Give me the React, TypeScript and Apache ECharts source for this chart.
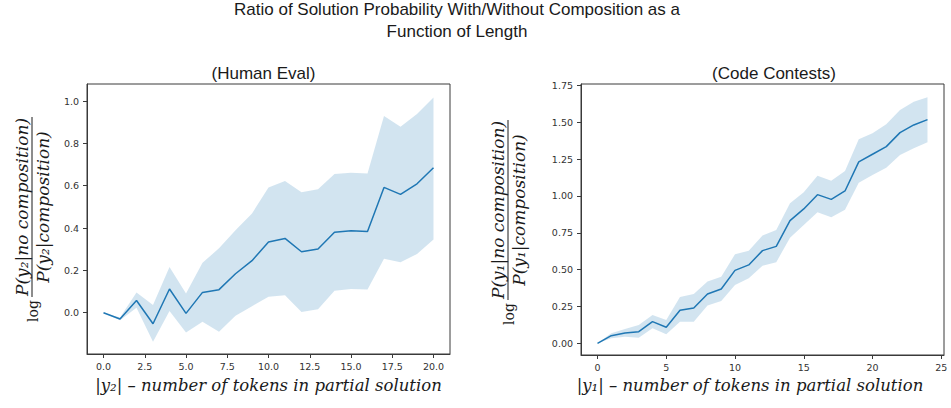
import React, { useEffect, useRef } from "react";
import * as echarts from "echarts";

// ---- Human Eval (left) ----
const heX = [0, 1, 2, 3, 4, 5, 6, 7, 8, 9, 10, 11, 12, 13, 14, 15, 16, 17, 18, 19, 20];
const heMean = [0.0, -0.03, 0.058, -0.052, 0.112, -0.003, 0.096, 0.109, 0.184, 0.246, 0.334, 0.351, 0.288, 0.301, 0.38, 0.387, 0.384, 0.592, 0.559, 0.609, 0.685];
const heUpper = [0.0, -0.022, 0.096, 0.036, 0.216, 0.091, 0.236, 0.304, 0.39, 0.469, 0.592, 0.622, 0.569, 0.583, 0.655, 0.661, 0.658, 0.929, 0.879, 0.939, 1.017];
const heLower = [0.0, -0.035, 0.024, -0.137, 0.008, -0.093, -0.043, -0.09, -0.014, 0.031, 0.076, 0.082, 0.003, 0.016, 0.104, 0.112, 0.11, 0.255, 0.238, 0.277, 0.346];
const heXTicks = [0, 2.5, 5, 7.5, 10, 12.5, 15, 17.5, 20];
const heYTicks = [0, 0.2, 0.4, 0.6, 0.8, 1.0];

// ---- Code Contests (right) ----
const ccX = [0, 1, 2, 3, 4, 5, 6, 7, 8, 9, 10, 11, 12, 13, 14, 15, 16, 17, 18, 19, 20, 21, 22, 23, 24];
const ccMean = [0, 0.052, 0.07, 0.079, 0.147, 0.109, 0.224, 0.24, 0.335, 0.369, 0.495, 0.532, 0.629, 0.658, 0.833, 0.912, 1.009, 0.977, 1.034, 1.231, 1.283, 1.335, 1.43, 1.482, 1.518];
const ccUpper = [0, 0.068, 0.097, 0.124, 0.192, 0.158, 0.314, 0.335, 0.419, 0.452, 0.604, 0.629, 0.731, 0.769, 0.95, 1.025, 1.138, 1.104, 1.17, 1.385, 1.425, 1.486, 1.584, 1.64, 1.67];
const ccLower = [0, 0.034, 0.045, 0.038, 0.102, 0.061, 0.147, 0.147, 0.256, 0.287, 0.396, 0.441, 0.527, 0.55, 0.717, 0.803, 0.889, 0.855, 0.907, 1.09, 1.143, 1.192, 1.278, 1.324, 1.364];
const ccXTicks = [0, 5, 10, 15, 20, 25];
const ccYTicks = [0, 0.25, 0.5, 0.75, 1.0, 1.25, 1.5, 1.75];

const LINE = "#1f77b4";
const BAND = "rgba(31,119,180,0.2)";
const AXIS = "#3a3a3a";
const TICKFONT = "DejaVu Sans";
const MATH = '"DejaVu Serif"';

function bandSeries(xs: number[], lo: number[], hi: number[], idx: number) {
  return {
    type: "custom",
    xAxisIndex: idx,
    yAxisIndex: idx,
    silent: true,
    z: 1,
    data: xs.map((x, i) => [x, lo[i], hi[i]]),
    encode: { x: 0, y: [1, 2] },
    renderItem: (params: any, api: any) => {
      if (params.dataIndex !== 0) return null;
      const pts: number[][] = [];
      for (let i = 0; i < xs.length; i++) pts.push(api.coord([xs[i], hi[i]]));
      for (let i = xs.length - 1; i >= 0; i--) pts.push(api.coord([xs[i], lo[i]]));
      return { type: "polygon", shape: { points: pts }, style: { fill: BAND }, silent: true };
    },
  };
}

function lineSeries(xs: number[], ys: number[], idx: number) {
  return {
    type: "line",
    xAxisIndex: idx,
    yAxisIndex: idx,
    data: xs.map((x, i) => [x, ys[i]]),
    showSymbol: false,
    symbol: "none",
    lineStyle: { color: LINE, width: 1.5 },
    z: 3,
    silent: true,
  };
}

function axis(gridIndex: number, min: number, max: number, ticks: number[], fmt: (v: number) => string, margin: number) {
  return {
    type: "value",
    gridIndex,
    min,
    max,
    axisLine: { show: true, onZero: false, lineStyle: { color: AXIS, width: 1 } },
    axisTick: { show: true, length: 4, inside: false, lineStyle: { color: AXIS, width: 1 }, customValues: ticks },
    axisLabel: { customValues: ticks, formatter: fmt, fontSize: 9.5, color: "#333", margin, fontFamily: TICKFONT },
    splitLine: { show: false },
  };
}

function txt(text: string, x: number, y: number, font: string, align = "center", vAlign = "middle") {
  return {
    type: "text",
    x,
    y,
    silent: true,
    style: {
      text,
      x: 0,
      y: 0,
      font,
      fill: "#1a1a1a",
      align,
      verticalAlign: vAlign,
      textAlign: align,
      textVerticalAlign: vAlign,
    },
  };
}

function yLabel(cx: number, cy: number, sub: string) {
  const half = 90;
  const fracFont = `italic 17px ${MATH}`;
  return {
    type: "group",
    x: cx,
    y: cy,
    rotation: Math.PI / 2,
    silent: true,
    children: [
      { type: "line", shape: { x1: -half, y1: 0, x2: half, y2: 0 }, style: { stroke: "#1a1a1a", lineWidth: 1 } },
      txt(`P(y${sub}|no composition)`, 0, -2, fracFont, "center", "bottom"),
      txt(`P(y${sub}|composition)`, 0, 2, fracFont, "center", "top"),
      txt("log", -half - 3, 1, `14px ${MATH}`, "right", "middle"),
    ],
  };
}

export default function App() {
  const ref = useRef<HTMLDivElement>(null);
  useEffect(() => {
    if (!ref.current) return;
    const chart = echarts.init(ref.current, undefined, { renderer: "svg" });
    const option: any = {
      animation: false,
      backgroundColor: "#ffffff",
      grid: [
        { left: 87, top: 84, width: 363, height: 270, show: true, borderColor: AXIS, borderWidth: 1, backgroundColor: "transparent" },
        { left: 581, top: 84, width: 363, height: 271, show: true, borderColor: AXIS, borderWidth: 1, backgroundColor: "transparent" },
      ],
      xAxis: [
        axis(0, -1, 21, heXTicks, (v: number) => v.toFixed(1), 7),
        axis(1, -1.2, 25.2, ccXTicks, (v: number) => v.toFixed(0), 7),
      ],
      yAxis: [
        axis(0, -0.195, 1.0805, heYTicks, (v: number) => v.toFixed(1), 8),
        axis(1, -0.0794, 1.76, ccYTicks, (v: number) => v.toFixed(2), 8),
      ],
      series: [
        bandSeries(heX, heLower, heUpper, 0),
        lineSeries(heX, heMean, 0),
        bandSeries(ccX, ccLower, ccUpper, 1),
        lineSeries(ccX, ccMean, 1),
      ],
      graphic: [
        txt("Ratio of Solution Probability With/Without Composition as a", 457, 9, '17px "Liberation Sans"'),
        txt("Function of Length", 457, 31, '17px "Liberation Sans"'),
        txt("(Human Eval)", 263.5, 73.5, '17px "Liberation Sans"'),
        txt("(Code Contests)", 774, 73.5, '17px "Liberation Sans"'),
        txt("|y₂| – number of tokens in partial solution", 268.5, 385, `italic 16.5px ${MATH}`),
        txt("|y₁| – number of tokens in partial solution", 750, 385, `italic 16.5px ${MATH}`),
        yLabel(32, 207, "₂"),
        yLabel(508, 210, "₁"),
      ],
    };
    chart.setOption(option);
    return () => chart.dispose();
  }, []);
  return <div ref={ref} style={{ position: "fixed", left: 0, top: 0, width: 951, height: 408 }} />;
}
